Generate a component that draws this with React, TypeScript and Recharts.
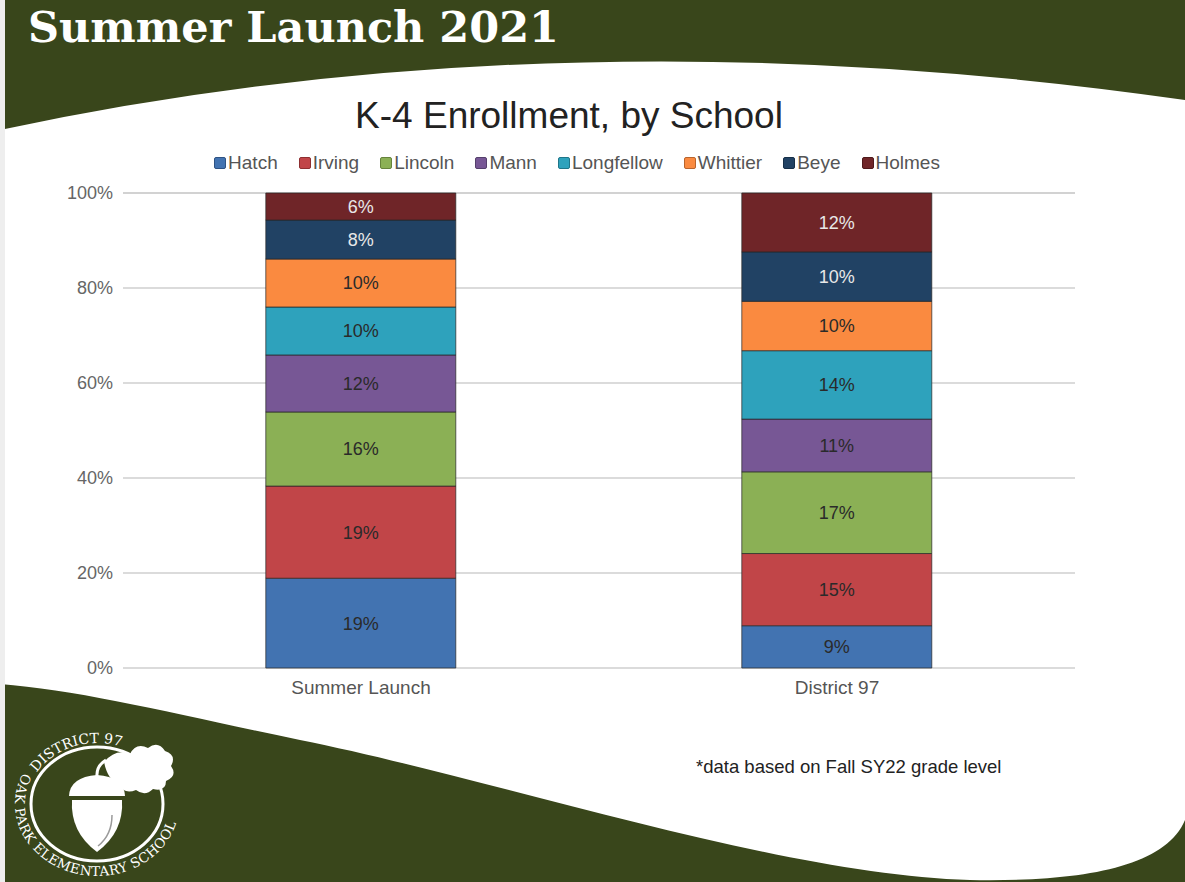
import { BarChart, Bar, XAxis, YAxis, CartesianGrid, Legend, LabelList } from 'recharts';

const groups = ['Summer Launch', 'District 97'];
const schools = ['Hatch', 'Irving', 'Lincoln', 'Mann', 'Longfellow', 'Whittier', 'Beye', 'Holmes'];
// share of K-4 enrollment, percent
const summerLaunch = [18.9, 19.4, 15.6, 12.0, 10.1, 10.1, 8.2, 5.7];
const district97 = [8.9, 15.2, 17.2, 11.1, 14.4, 10.4, 10.4, 12.4];
const yTicks = [0, 20, 40, 60, 80, 100];

const fills = ['#4273b1', '#c14548', '#8bb055', '#775795', '#2ea2bc', '#fa8a40', '#214264', '#6f2528'];
const borders = ['#2e5283', '#8e2f31', '#66833c', '#55406c', '#1f7689', '#b8642d', '#162f48', '#4f191b'];
const labelColors = ['#2a2a2a', '#2a2a2a', '#2a2a2a', '#2a2a2a', '#2a2a2a', '#2a2a2a', '#e8e8e8', '#e8e8e8'];

const GREEN = '#39461b';
const FONT = '"Liberation Sans", Arial, sans-serif';

const seriesByGroup = [summerLaunch, district97];
const data = groups.map((name, i) => {
  const row: Record<string, string | number> = { name };
  schools.forEach((s, j) => {
    row[s] = seriesByGroup[i][j];
  });
  return row;
});

const renderLegend = () => (
  <div
    style={{
      display: 'flex',
      justifyContent: 'center',
      gap: 21,
      fontSize: 19,
      color: '#555',
      fontFamily: FONT,
      lineHeight: '22px',
    }}
  >
    {schools.map((s, i) => (
      <span key={s} style={{ display: 'flex', alignItems: 'center' }}>
        <span
          style={{
            width: 10,
            height: 10,
            background: fills[i],
            border: `1px solid ${borders[i]}`,
            borderRadius: 2,
            marginRight: 2,
          }}
        />
        {s}
      </span>
    ))}
  </div>
);

// slide decoration: green background, white wave, district seal
const Slide = () => {
  const cx = 97;
  const cy = 804;
  const pt = (rx: number, ry: number, deg: number) => {
    const r = (deg * Math.PI) / 180;
    return `${(cx + rx * Math.cos(r)).toFixed(1)},${(cy + ry * Math.sin(r)).toFixed(1)}`;
  };
  const topArc = `M${pt(70, 61, 200)} A70,61 0 0 1 ${pt(70, 61, 345)}`;
  const bottomArc = `M${pt(82, 72, 208)} A82,72 0 1 0 ${pt(82, 72, 338)}`;

  return (
    <svg width={1185} height={882} style={{ position: 'absolute', left: 0, top: 0 }}>
      <rect x={0} y={0} width={1185} height={882} fill={GREEN} />
      <path
        d="M0,130 Q560,10 1185,100 L1185,820 C1165,868 1080,882 970,880 C780,875 500,780 300,740 C180,715 80,690 0,684 Z"
        fill="#fff"
      />
      <rect x={0} y={0} width={5} height={882} fill="#eeeeee" />
      <text x={28} y={42} fill="#fff" fontFamily='"DejaVu Serif", serif' fontWeight="bold" fontSize={43}>
        Summer Launch 2021
      </text>
      <text x={569} y={128} textAnchor="middle" fill="#222" fontFamily={FONT} fontSize={37}>
        K-4 Enrollment, by School
      </text>
      <text x={696} y={773} fill="#222" fontFamily={FONT} fontSize={18.5}>
        *data based on Fall SY22 grade level
      </text>

      <defs>
        <path id="sealTop" d={topArc} />
        <path id="sealBottom" d={bottomArc} />
      </defs>
      <ellipse cx={cx} cy={cy} rx={66} ry={57} fill="none" stroke="#fff" strokeWidth={3} />
      <text fill="#fff" fontFamily='"DejaVu Serif", serif' fontSize={14}>
        <textPath href="#sealTop" startOffset="7%">DISTRICT 97</textPath>
      </text>
      <text fill="#fff" fontFamily='"DejaVu Serif", serif' fontSize={13.5} letterSpacing={0.4}>
        <textPath href="#sealBottom" startOffset="1%">OAK PARK ELEMENTARY SCHOOL</textPath>
      </text>
      <path d="M97,777 Q96,766 106,760" fill="none" stroke="#fff" strokeWidth={3} />
      <path
        d="M104,762 Q116,748 130,754 Q136,742 148,748 Q158,740 165,751 Q177,755 171,766 Q178,776 166,781 Q166,792 153,789 Q145,797 136,790 Q124,795 119,784 Q108,781 104,762 Z"
        fill="#fff"
      />
      <path d="M69,796 Q70,777 97,775 Q124,777 125,796 Z" fill="#fff" />
      <path d="M72,800 L122,800 Q124,832 97,852 Q70,832 72,800 Z" fill="#fff" />
      <path d="M112,815 Q112,835 98,846" fill="none" stroke="#9a9a9a" strokeWidth={1.5} />
    </svg>
  );
};

export default function App() {
  return (
    <div style={{ position: 'absolute', left: 0, top: 0, width: 1185, height: 882, fontFamily: FONT }}>
      <Slide />
      <div style={{ position: 'absolute', left: 0, top: 0 }}>
        <BarChart
          width={1185}
          height={882}
          data={data}
          margin={{ top: 193, right: 110, bottom: 184, left: 63 }}
          barCategoryGap="30%"
        >
          <CartesianGrid vertical={false} stroke="#cfcfcf" strokeWidth={1.5} />
          <XAxis
            dataKey="name"
            tickLine={false}
            axisLine={false}
            tickSize={0}
            tickMargin={13}
            tick={{ fill: '#555', fontSize: 19 }}
          />
          <YAxis
            domain={[0, 100]}
            ticks={yTicks}
            tickFormatter={(v) => `${v}%`}
            tickLine={false}
            axisLine={false}
            tickSize={0}
            tickMargin={10}
            tick={{ fill: '#666', fontSize: 18 }}
          />
          <Legend
            verticalAlign="middle"
            content={renderLegend}
            wrapperStyle={{ top: 152, left: 0, width: 1154 }}
          />
          {schools.map((s, i) => (
            <Bar
              key={s}
              dataKey={s}
              stackId="a"
              fill={fills[i]}
              stroke="#262626"
              strokeOpacity={0.7}
              strokeWidth={1}
              isAnimationActive={false}
            >
              <LabelList
                dataKey={s}
                position="center"
                formatter={(v: number) => `${Math.round(v)}%`}
                fill={labelColors[i]}
                fontSize={18}
              />
            </Bar>
          ))}
        </BarChart>
      </div>
    </div>
  );
}
